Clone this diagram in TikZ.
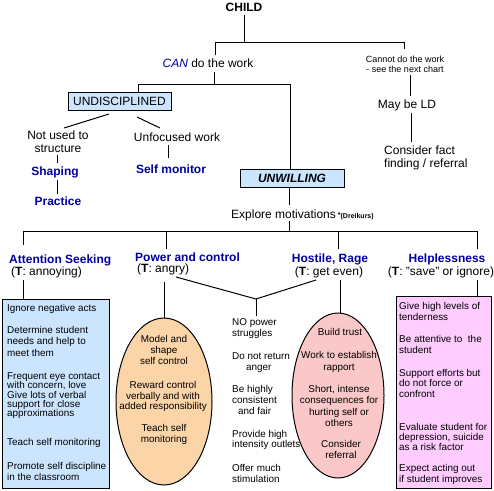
\documentclass[tikz,border=0pt]{standalone}
\usepackage{fontspec}
\setmainfont{Liberation Sans}
\usetikzlibrary{shapes.geometric}
\definecolor{hblue}{RGB}{0,0,160}
\definecolor{lblue}{RGB}{204,229,255}
\definecolor{peach}{RGB}{251,213,168}
\definecolor{lpink}{RGB}{250,200,200}
\definecolor{lviolet}{RGB}{255,204,255}
\tikzset{
  conn/.style={draw=black, line width=1pt},
  big/.style={font=\fontsize{12}{13}\selectfont, inner sep=0pt},
  head/.style={font=\fontsize{12}{13}\selectfont\bfseries, text=hblue, inner sep=0pt},
  sub/.style={font=\fontsize{12}{13}\selectfont, inner sep=0pt},
  small/.style={font=\fontsize{9.9}{#1}\selectfont, inner sep=0pt},
  small/.default=10.8,
  tagbox/.style={draw, line width=1pt, fill=lblue, minimum height=18pt, inner sep=0pt, font=\fontsize{12}{13}\selectfont},
  listbox/.style={draw, line width=1pt, inner sep=0pt},
  oval/.style={ellipse, draw, line width=1pt, inner sep=0pt},
}
\begin{document}
\begin{tikzpicture}[x=1pt,y=-1pt]
\useasboundingbox (0,0) rectangle (494,490);

% ---------- top ----------
\node[big, font=\fontsize{12}{13}\selectfont\bfseries, anchor=base] (child) at (244,11.7) {CHILD};
\node[big, anchor=base] (can) at (208,67.7) {\textcolor{hblue}{\textit{CAN}} do the work};
\node[font=\fontsize{9}{10}\selectfont, align=center, inner sep=0pt, anchor=north] (cannot) at (405,55.6) {Cannot do the work\\- see the next chart};
\node[big, anchor=base] (ld) at (407,108.3) {May be LD};
\node[font=\fontsize{12}{13}\selectfont, inner sep=0pt, align=left, anchor=north west] (fact) at (384,145.5) {Consider fact\\finding / referral};

\node[tagbox, minimum width=103pt] (undis) at (119.5,101) {UNDISCIPLINED};
\node[font=\fontsize{12}{12.7}\selectfont, inner sep=0pt, align=center, anchor=north] (notused) at (58,130.5) {Not used to\\structure};
\node[head, anchor=base] (shaping) at (55,175) {Shaping};
\node[head, anchor=base] (practice) at (58,205) {Practice};
\node[big, anchor=base] (unfoc) at (177,141.7) {Unfocused work};
\node[head, anchor=base] (selfmon) at (171,173.3) {Self monitor};

\node[tagbox, minimum width=104pt, font=\fontsize{12}{13}\selectfont\bfseries\itshape] (unwill) at (292,178) {UNWILLING};
\node[big, anchor=base west] (explore) at (231,218) {Explore motivations\,{\fontsize{7}{8}\selectfont\bfseries\raisebox{1pt}{*}(Dreikurs)}};

% ---------- headings ----------
\node[head, anchor=base west] (atthead) at (9,263.3) {Attention Seeking};
\node[sub, anchor=base west] (attsub) at (11,275) {(\textbf{T}: annoying)};
\node[head, anchor=base west] (powhead) at (135,261.3) {Power and control};
\node[sub, anchor=base west] (powsub) at (137,272.6) {(\textbf{T}: angry)};
\node[head, anchor=base] (hosthead) at (330,262.3) {Hostile, Rage};
\node[sub, anchor=base] (hostsub) at (329,275) {(\textbf{T}: get even)};
\node[head, anchor=base] (helphead) at (447,262.3) {Helplessness};
\node[sub, anchor=base] (helpsub) at (441,275) {(\textbf{T}: "save" or ignore)};

% ---------- shapes ----------
\node[listbox, fill=lblue, minimum width=107pt, minimum height=189pt] (attbox) at (55.5,393.5) {};
\node[listbox, fill=lviolet, minimum width=95pt, minimum height=192pt] (helpbox) at (443.5,392) {};
\node[oval, fill=peach, minimum width=96pt, minimum height=167pt] (powell) at (164,401.5) {};
\node[oval, fill=lpink, minimum width=92pt, minimum height=165pt] (hostell) at (338,395.5) {};

% ---------- attention box text ----------
\node[small, align=left, anchor=north west] (a1) at (7,304.4) {Ignore negative acts};
\node[small=11.2, align=left, anchor=north west] (a2) at (7,326.4) {Determine student\\needs and help to\\meet them};
\node[small=9.3, align=left, anchor=north west] (a3) at (7,372.4) {Frequent eye contact\\with concern, love\\Give lots of verbal\\support for close\\approximations};
\node[small, align=left, anchor=north west] (a4) at (7,438.4) {Teach self monitoring};
\node[small=10.3, align=left, anchor=north west] (a5) at (7,462.6) {Promote self discipline\\in the classroom};

% ---------- power ellipse text ----------
\node[small=10.7, align=center, anchor=north] (p1) at (164,335.4) {Model and\\shape\\self control};
\node[small=10.5, align=center, anchor=north] (p2) at (163,381.4) {Reward control\\verbally and with\\added responsibility};
\node[small=11.5, align=center, anchor=north] (p3) at (164,423.7) {Teach self\\monitoring};

% ---------- middle text ----------
\node[small=10.8, align=left, anchor=north west] (m1) at (232,318.4) {NO power\\struggles};
\node[small=11, align=left, anchor=north west] (m2) at (232,352.4) {Do not return\\\hspace*{14pt}anger};
\node[small=11, align=left, anchor=north west] (m3) at (232,385.4) {Be highly\\consistent\\\hspace*{6pt}and fair};
\node[small=10.2, align=left, anchor=north west] (m4) at (232,430.4) {Provide high\\intensity outlets};
\node[small=10.5, align=left, anchor=north west] (m5) at (232,464.4) {Offer much\\stimulation};

% ---------- hostile ellipse text ----------
\node[small, align=center, anchor=north] (h1) at (340,328.4) {Build trust};
\node[small=11.7, align=center, anchor=north] (h2) at (339,351.4) {Work to establish\\rapport};
\node[small=11.2, align=center, anchor=north] (h3) at (339,385.4) {Short, intense\\consequences for\\hurting self or\\others};
\node[small=10.7, align=center, anchor=north] (h4) at (341,440.4) {Consider\\referral};

% ---------- helplessness text ----------
\node[small=11, align=left, anchor=north west] (l1) at (399,302.4) {Give high levels of\\tenderness};
\node[small=11, align=left, anchor=north west] (l2) at (399,335.4) {Be attentive to~ the\\student};
\node[small=10.2, align=left, anchor=north west] (l3) at (399,369.4) {Support efforts but\\do not force or\\confront};
\node[small=10, align=left, anchor=north west] (l4) at (399,423.4) {Evaluate student for\\depression, suicide\\as a risk factor};
\node[small=10.3, align=left, anchor=north west] (l5) at (399,464.4) {Expect acting out\\if student improves};

% ---------- coordinates ----------
\coordinate (childB) at (244,15);
\coordinate (jA) at (244,42);
\coordinate (canT) at (215,55);
\coordinate (jAl) at (215,42);
\coordinate (jAr) at (404,42);
\coordinate (cannotT) at (404,49);
\coordinate (cannotB) at (410,75);
\coordinate (ldT) at (410,96);
\coordinate (ldB) at (411,113);
\coordinate (factT) at (411,142);
\coordinate (canB) at (214,72);
\coordinate (jB) at (214,84);
\coordinate (jBl) at (138,84);
\coordinate (jBr) at (290,84);
\coordinate (undisDL) at (109,114);
\coordinate (notusedT) at (64,128);
\coordinate (undisDR) at (137,117);
\coordinate (unfocT) at (160,128);
\coordinate (notusedB) at (57,155);
\coordinate (shapingT) at (57,163);
\coordinate (shapingB) at (57,180);
\coordinate (practiceT) at (57,194);
\coordinate (unfocB) at (168,145);
\coordinate (selfmonT) at (168,158);
\coordinate (exploreT) at (289,205);
\coordinate (exploreB) at (289,221);
\coordinate (jC) at (289,231);
\coordinate (jCa) at (23,231);
\coordinate (jCp) at (166,231);
\coordinate (jCh) at (338,231);
\coordinate (jCl) at (477,231);
\coordinate (attT) at (23,245);
\coordinate (powT) at (166,249);
\coordinate (hostT) at (338,249);
\coordinate (helpT) at (477,249);
\coordinate (attB) at (23,280);
\coordinate (powB) at (164,282);
\coordinate (powR) at (176,277);
\coordinate (jD) at (256,299);
\coordinate (hostL) at (316,280);
\coordinate (midT) at (256,316);
\coordinate (hostB) at (340,280);
\coordinate (hostE) at (340,313.2);
\coordinate (helpB) at (477,280);

% ---------- connectors ----------
\draw[conn] (childB) -- (jA);
\draw[conn] (canT) -- (jAl) -- (jAr) -- (cannotT);
\draw[conn] (cannotB) -- (ldT);
\draw[conn] (ldB) -- (factT);
\draw[conn] (canB) -- (jB);
\draw[conn] (jBl |- undis.north) -- (jBl) -- (jBr) -- (jBr |- unwill.north);
\draw[conn] (undisDL) -- (notusedT);
\draw[conn] (undisDR) -- (unfocT);
\draw[conn] (notusedB) -- (shapingT);
\draw[conn] (shapingB) -- (practiceT);
\draw[conn] (unfocB) -- (selfmonT);
\draw[conn] (exploreT) -- (exploreT |- unwill.south);
\draw[conn] (exploreB) -- (jC);
\draw[conn] (jCa) -- (jCl);
\draw[conn] (jCa) -- (attT);
\draw[conn] (jCp) -- (powT);
\draw[conn] (jCh) -- (hostT);
\draw[conn] (jCl) -- (helpT);
\draw[conn] (attB) -- (attB |- attbox.north);
\draw[conn] (powB) -- (powell.north);
\draw[conn] (powR) -- (jD) -- (hostL);
\draw[conn] (jD) -- (midT);
\draw[conn] (hostB) -- (hostE);
\draw[conn] (helpB) -- (helpB |- helpbox.north);
\end{tikzpicture}
\end{document}
